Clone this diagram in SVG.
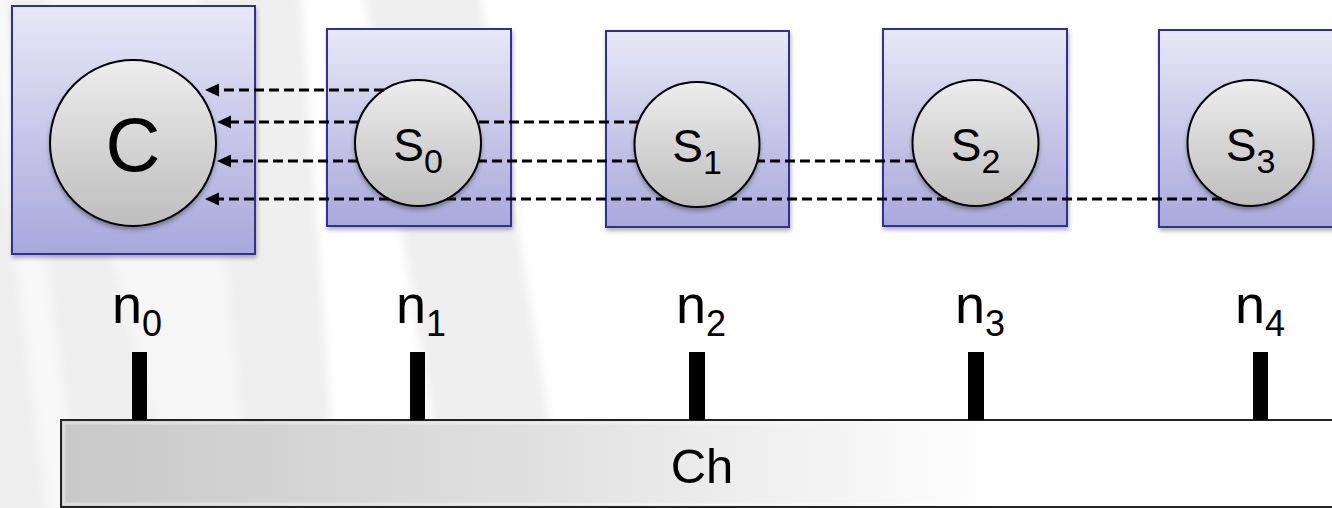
<svg xmlns="http://www.w3.org/2000/svg" width="1332" height="508" viewBox="0 0 1332 508">
  <style>
    .box { fill: url(#boxGrad); stroke: #2E3192; stroke-width: 2; filter: url(#shadow); }
    .circ { fill: url(#circGrad); stroke: #000; stroke-width: 2; filter: url(#cshadow); }
    .lbl { font-family: "Liberation Sans", Arial, sans-serif; fill: #000; }
    .big { font-size: 76px; }
    .s { font-size: 46px; }
    .ssub { font-size: 34px; }
    .n { font-size: 54px; }
    .nsub { font-size: 36px; }
    .ch { font-size: 49px; }
    .conn { fill: none; stroke: #000; stroke-width: 3; stroke-dasharray: 10 5; }
    .tick { fill: #000; }
    .bgband { fill: #efefef; }
  </style>
  <defs>
    <linearGradient id="boxGrad" x1="0" y1="0" x2="0" y2="1">
      <stop offset="0" stop-color="#E8E8F6"/>
      <stop offset="1" stop-color="#A8A8DC"/>
    </linearGradient>
    <linearGradient id="circGrad" x1="0" y1="0" x2="0" y2="1">
      <stop offset="0" stop-color="#EDEDED"/>
      <stop offset="1" stop-color="#BEBEBE"/>
    </linearGradient>
    <linearGradient id="barGrad" gradientUnits="userSpaceOnUse" x1="61" y1="0" x2="1000" y2="0">
      <stop offset="0" stop-color="#C8C8C8"/>
      <stop offset="0.5" stop-color="#E0E0E0"/>
      <stop offset="1" stop-color="#FFFFFF"/>
    </linearGradient>
    <filter id="shadow" x="-10%" y="-10%" width="125%" height="125%">
      <feDropShadow dx="1" dy="3" stdDeviation="2" flood-color="#000" flood-opacity="0.3"/>
    </filter>
    <filter id="cshadow" x="-10%" y="-10%" width="125%" height="125%">
      <feDropShadow dx="0" dy="3" stdDeviation="2" flood-color="#000" flood-opacity="0.3"/>
    </filter>
    <filter id="blur" x="-20%" y="-20%" width="140%" height="140%">
      <feGaussianBlur stdDeviation="5"/>
    </filter>
    <marker id="arrow" markerUnits="userSpaceOnUse" markerWidth="15" markerHeight="14" refX="0" refY="6.5" orient="auto">
      <path d="M0,0 L14,6.5 L0,13 z" fill="#000"/>
    </marker>
  </defs>

  <!-- background -->
  <rect x="0" y="0" width="1332" height="508" fill="#ffffff"/>
  <g id="background" filter="url(#blur)">
    <polygon class="bgband" points="-40,-20 40,-20 180,520 -40,520"/>
    <polygon fill="#f8f8f8" points="-20,-20 8,-20 82,520 48,520"/>
    <polygon fill="#f6f6f6" points="40,-20 198,-20 252,520 180,520"/>
    <polygon class="bgband" points="198,-20 300,-20 338,520 252,520"/>
    <polygon class="bgband" points="362,-20 478,-20 565,520 448,520"/>
  </g>

  <!-- channel bar -->
  <g id="channel">
    <rect x="61" y="420" width="1300" height="87" fill="url(#barGrad)" stroke="#222" stroke-width="2"/>
    <rect x="64" y="423" width="1294" height="81" fill="none" stroke="#ffffff" stroke-opacity="0.35" stroke-width="3"/>
    <text class="lbl ch" x="702" y="483" text-anchor="middle">Ch</text>
  </g>

  <!-- node taps and labels -->
  <g id="n0"><rect class="tick" x="132" y="352" width="15" height="68"/><text class="lbl n" x="112" y="323">n<tspan class="nsub" dy="13">0</tspan></text></g>
  <g id="n1"><rect class="tick" x="410" y="352" width="15" height="68"/><text class="lbl n" x="396" y="323">n<tspan class="nsub" dy="13">1</tspan></text></g>
  <g id="n2"><rect class="tick" x="689" y="352" width="16" height="68"/><text class="lbl n" x="676" y="323">n<tspan class="nsub" dy="13">2</tspan></text></g>
  <g id="n3"><rect class="tick" x="968" y="352" width="16" height="68"/><text class="lbl n" x="955" y="323">n<tspan class="nsub" dy="13">3</tspan></text></g>
  <g id="n4"><rect class="tick" x="1253" y="352" width="15" height="68"/><text class="lbl n" x="1235" y="323">n<tspan class="nsub" dy="13">4</tspan></text></g>

  <!-- nodes -->
  <g id="node-C">
    <rect class="box" x="12" y="6" width="243" height="248"/>
    <circle class="circ" cx="133" cy="143" r="83"/>
    <text class="lbl big" x="133" y="171" text-anchor="middle">C</text>
  </g>
  <g id="node-S0">
    <rect class="box" x="327" y="29" width="184" height="197"/>
    <circle class="circ" cx="418" cy="143" r="63"/>
    <text class="lbl s" x="418" y="161" text-anchor="middle">S<tspan class="ssub" dy="12">0</tspan></text>
  </g>
  <g id="node-S1">
    <rect class="box" x="606" y="31" width="183" height="196"/>
    <circle class="circ" cx="697" cy="144.5" r="62.5"/>
    <text class="lbl s" x="697" y="162" text-anchor="middle">S<tspan class="ssub" dy="12">1</tspan></text>
  </g>
  <g id="node-S2">
    <rect class="box" x="883" y="29" width="184" height="197"/>
    <circle class="circ" cx="975.5" cy="143" r="63"/>
    <text class="lbl s" x="975.5" y="161" text-anchor="middle">S<tspan class="ssub" dy="12">2</tspan></text>
  </g>
  <g id="node-S3">
    <rect class="box" x="1159" y="30" width="200" height="197"/>
    <circle class="circ" cx="1250.5" cy="143" r="63"/>
    <text class="lbl s" x="1250.5" y="161" text-anchor="middle">S<tspan class="ssub" dy="12">3</tspan></text>
  </g>

  <!-- connectors (S_i to C), split around intermediate circles -->
  <g id="connectors">
    <path class="conn" d="M384,90 L219,90" marker-end="url(#arrow)"/>
    <path class="conn" d="M639,122 L477,122"/>
    <path class="conn" d="M359,122 L231,122" marker-end="url(#arrow)"/>
    <path class="conn" d="M915,161 L757,161"/>
    <path class="conn" d="M637,161 L478,161"/>
    <path class="conn" d="M358,161 L231,161" marker-end="url(#arrow)"/>
    <path class="conn" d="M1222,199 L1004,199"/>
    <path class="conn" d="M947,199 L728,199"/>
    <path class="conn" d="M666,199 L447,199"/>
    <path class="conn" d="M389,199 L219,199" marker-end="url(#arrow)"/>
  </g>
</svg>
